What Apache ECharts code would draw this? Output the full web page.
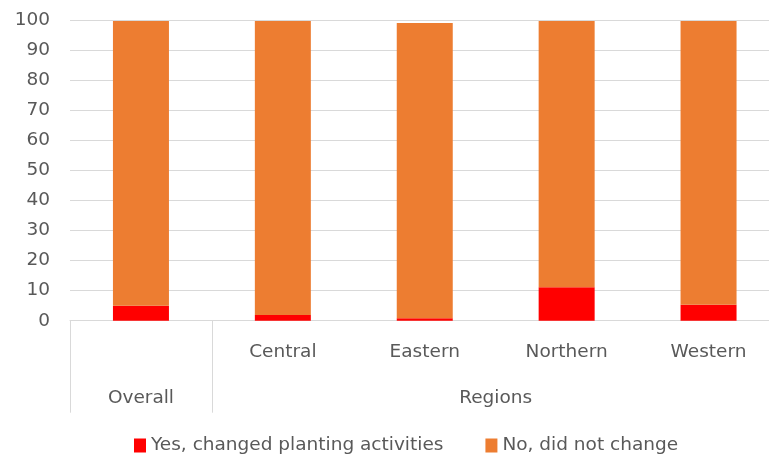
<!DOCTYPE html>
<html>
<head>
<meta charset="utf-8">
<script src="https://cdn.jsdelivr.net/npm/echarts@6/dist/echarts.min.js"></script>
<style>html,body{margin:0;padding:0;background:#fff}#c{width:769px;height:458px}</style>
</head>
<body>
<div id="c"></div>
<script>
// Categories (inner level) and their outer grouping
const categories = ['Overall', 'Central', 'Eastern', 'Northern', 'Western'];
const innerLabels = ['', 'Central', 'Eastern', 'Northern', 'Western'];
const groupNames = ['Overall', 'Regions'];
const groupSpans = [1, 4];
// Series values (%)
const yesValues = [5, 1.9, 0.8, 11.1, 5.3];
const noValues = [94.7, 97.8, 98.2, 88.6, 94.4];
const seriesNames = ['Yes, changed planting activities', 'No, did not change'];
const yTicks = [0, 10, 20, 30, 40, 50, 60, 70, 80, 90, 100];

// group label centers (in category units)
const groupCenters = {};
let acc = 0;
groupNames.forEach((g, i) => { groupCenters[(acc + groupSpans[i] / 2).toFixed(2)] = g; acc += groupSpans[i]; });
const boundaryIdx = [0, groupSpans[0]];

const font = 'DejaVu Sans';
const txt = '#595959';
const grid = '#d9d9d9';
const fs = 18.5;

const chart = echarts.init(document.getElementById('c'));
chart.setOption({
  animation: false,
  textStyle: { fontFamily: font },
  grid: { left: 70, top: 20, width: 709.5, height: 300.7, outerBoundsMode: 'none', containLabel: false },
  legend: {
    left: 129, top: 431, itemWidth: 12, itemHeight: 14, itemGap: 42,
    icon: 'rect',
    textStyle: { color: txt, fontSize: fs, fontFamily: font },
    data: seriesNames
  },
  xAxis: [{
    type: 'category',
    data: innerLabels,
    axisLine: { lineStyle: { color: grid, width: 1 } },
    axisTick: { show: true, length: 92, interval: (i) => boundaryIdx.indexOf(i) >= 0, lineStyle: { color: grid } },
    axisLabel: { color: txt, fontSize: fs, margin: 22, interval: 0 }
  }, {
    type: 'value',
    position: 'bottom',
    min: 0, max: categories.length, interval: 0.5,
    axisLine: { show: false }, axisTick: { show: false }, splitLine: { show: false },
    axisLabel: { color: txt, fontSize: fs, margin: 68,
      formatter: (v) => groupCenters[v.toFixed(2)] || '' }
  }],
  yAxis: {
    type: 'value', min: yTicks[0], max: yTicks[yTicks.length - 1], interval: 10,
    axisLine: { show: false }, axisTick: { show: false },
    splitLine: { lineStyle: { color: grid, width: 1 } },
    axisLabel: { color: txt, fontSize: fs, margin: 20 }
  },
  series: [{
    name: seriesNames[0], type: 'bar', stack: 'a', barWidth: 56,
    itemStyle: { color: '#FF0000' }, data: yesValues
  }, {
    name: seriesNames[1], type: 'bar', stack: 'a', barWidth: 56,
    itemStyle: { color: '#ED7D31' }, data: noValues
  }]
});
</script>
</body>
</html>
